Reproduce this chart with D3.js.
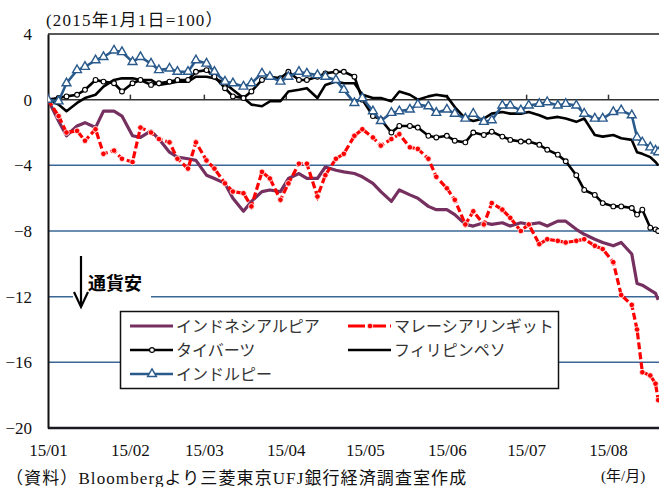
<!DOCTYPE html>
<html>
<head>
<meta charset="utf-8">
<script src="https://cdn.jsdelivr.net/npm/d3@7/dist/d3.min.js"></script>
<style>
  body { margin: 0; background: #fff; }
  text { font-family: "Liberation Serif", "Times New Roman", "Noto Sans CJK JP", serif; }
  .jp { font-family: "Noto Sans CJK JP", sans-serif; }
</style>
</head>
<body>
<div id="chart"></div>
<script>
// dates of the sampled points (2015)
var dates = ["01-01","01-05","01-08","01-12","01-15","01-19","01-22","01-26","01-29",
  "02-02","02-05","02-09","02-12","02-16","02-19","02-23","02-26",
  "03-02","03-05","03-09","03-12","03-16","03-19","03-23","03-26","03-30",
  "04-02","04-06","04-09","04-13","04-16","04-20","04-23","04-27","04-30",
  "05-04","05-07","05-11","05-14","05-18","05-21","05-25","05-28",
  "06-01","06-04","06-08","06-11","06-15","06-18","06-22","06-25","06-29",
  "07-02","07-06","07-09","07-13","07-16","07-20","07-23","07-27","07-30",
  "08-03","08-06","08-10","08-12","08-14","08-17","08-19","08-20"];

// index (2015/1/1 = 100) minus 100
var idr = [0,-1.3,-2.2,-1.6,-1.4,-1.7,-0.7,-0.7,-1.0,
  -2.2,-2.3,-1.9,-2.4,-3.2,-3.5,-3.6,-3.7,
  -4.6,-4.8,-5.1,-6.0,-6.8,-6.2,-5.6,-5.5,-5.6,
  -4.8,-4.5,-4.8,-4.8,-4.1,-4.3,-4.4,-4.5,-4.7,
  -5.1,-5.6,-6.2,-5.5,-5.8,-6.0,-6.5,-6.7,
  -6.7,-7.0,-7.6,-7.7,-7.5,-7.6,-7.5,-7.7,-7.5,
  -7.6,-7.5,-7.7,-7.4,-7.4,-7.9,-8.2,-8.5,-8.7,
  -8.9,-8.7,-9.4,-11.2,-11.3,-11.6,-11.8,-12.2];

var myr = [0,-1.0,-2.0,-1.9,-2.5,-1.8,-3.3,-3.1,-3.6,
  -3.8,-1.7,-2.0,-2.4,-2.6,-3.6,-4.2,-2.6,
  -3.7,-4.2,-5.1,-5.6,-5.7,-6.5,-4.4,-4.8,-6.1,
  -5.1,-3.9,-3.9,-5.9,-4.6,-3.6,-3.3,-2.2,-1.8,
  -2.3,-2.8,-2.4,-2.1,-2.9,-3.0,-3.6,-4.7,
  -5.4,-6.1,-7.6,-6.8,-7.6,-6.3,-6.7,-7.2,-8.0,
  -7.6,-8.8,-8.5,-8.6,-8.7,-8.6,-8.5,-8.9,-9.1,
  -9.9,-11.9,-12.5,-14.0,-16.6,-16.8,-17.3,-18.3];

var thb = [0,0.1,0.2,0.3,0.6,1.2,1.1,1.0,0.5,
  1.0,1.2,0.9,1.0,1.1,1.2,1.2,1.7,
  1.8,1.4,0.7,0.2,0.1,0.5,1.2,1.4,1.3,
  1.7,1.2,1.2,1.4,1.6,1.7,1.7,1.4,0.0,
  -1.0,-1.2,-2.0,-1.6,-1.6,-1.7,-2.2,-2.3,
  -2.2,-2.5,-2.6,-2.0,-2.15,-1.95,-2.25,-2.45,-2.55,
  -2.55,-2.75,-3.05,-3.35,-3.75,-4.6,-5.5,-5.8,-6.3,
  -6.5,-6.5,-6.6,-7.0,-6.7,-7.8,-7.9,-8.0];

var php = [0,-0.3,-0.7,-0.2,0.1,0.3,0.8,1.2,1.3,
  1.3,1.2,1.2,0.9,1.0,1.1,1.1,1.4,
  1.4,1.3,1.0,0.6,0.1,-0.3,-0.4,-0.1,-0.1,
  0.5,0.6,0.7,0.1,0.9,1.1,1.0,1.0,0.3,
  0.1,0.1,-0.1,0.5,0.3,0.0,0.2,0.3,
  0.2,-0.45,-1.15,-1.3,-1.15,-0.85,-0.75,-0.85,-0.85,
  -0.75,-0.95,-1.15,-1.05,-1.15,-1.35,-1.15,-2.15,-2.25,
  -2.15,-2.35,-2.45,-3.2,-3.3,-3.5,-3.8,-4.0];

var inr = [0,-0.1,1.0,1.8,2.0,2.4,2.6,3.0,2.9,
  2.3,2.6,2.2,1.8,1.9,1.7,1.7,2.4,
  2.2,1.7,1.1,1.0,0.8,1.0,1.6,1.4,1.1,
  1.4,1.7,1.6,1.5,1.4,1.2,0.6,-0.2,0.1,
  -0.7,-1.3,-0.8,-0.7,-0.6,-0.3,-0.4,-0.8,
  -0.6,-0.85,-1.15,-0.85,-1.35,-1.25,-0.35,-0.35,-0.65,
  -0.35,-0.25,-0.15,-0.35,-0.25,-0.35,-0.85,-1.15,-1.15,
  -0.75,-0.65,-0.95,-2.3,-2.6,-2.9,-3.1,-3.2];

var seriesNames = ["インドネシアルピア", "マレーシアリンギット", "タイバーツ", "フィリピンペソ", "インドルピー"];
var yTicks = [4, 0, -4, -8, -12, -16, -20];
var monthTicks = ["2015-01-01","2015-02-01","2015-03-01","2015-04-01","2015-05-01","2015-06-01","2015-07-01","2015-08-01"];

var width = 659, height = 487;
var svg = d3.select("#chart").append("svg").attr("width", width).attr("height", height);

var parse = d3.timeParse("%Y-%m-%d");
var dateObjs = dates.map(function (d) { return parse("2015-" + d); });

// x: Jan 1 at the left axis, Aug 1 at x=608
var x = d3.scaleTime()
    .domain([parse("2015-01-01"), parse("2015-08-01")])
    .range([48, 608]);
var y = d3.scaleLinear().domain([-20, 4]).range([428, 34]);
var left = 48, right = 660;

//gridlines
svg.append("g").selectAll("line")
    .data([-4, -8, -12, -16])
    .enter().append("line")
    .attr("x1", left).attr("x2", right)
    .attr("y1", function (d) { return y(d); })
    .attr("y2", function (d) { return y(d); })
    .attr("stroke", "#3a6796").attr("stroke-width", 1.5);

svg.append("line").attr("x1", left).attr("x2", right)
    .attr("y1", y(4)).attr("y2", y(4)).attr("stroke", "#222").attr("stroke-width", 1.5);
svg.append("line").attr("x1", left).attr("x2", right)
    .attr("y1", y(0)).attr("y2", y(0)).attr("stroke", "#333").attr("stroke-width", 1.5);
svg.append("line").attr("x1", left).attr("x2", right)
    .attr("y1", y(-20)).attr("y2", y(-20)).attr("stroke", "#1a1a22").attr("stroke-width", 2.5);

// y axis
var yAxis = svg.append("g").attr("transform", "translate(" + left + ",0)")
    .call(d3.axisLeft(y).tickValues(yTicks).tickSize(0).tickPadding(16).tickFormat(d3.format("d")));
yAxis.select(".domain").attr("stroke", "#111").attr("stroke-width", 2);
yAxis.selectAll("text").attr("font-size", 17).attr("fill", "#111")
    .style("font-family", "'Liberation Serif', serif");

// small month ticks on the zero line
var monthDates = monthTicks.map(parse);
var tickAxis = svg.append("g").attr("transform", "translate(0," + y(0) + ")")
    .call(d3.axisTop(x).tickValues(monthDates.slice(1)).tickSize(5).tickFormat(""));
tickAxis.select(".domain").remove();
tickAxis.selectAll("line").attr("stroke", "#333").attr("stroke-width", 1.5);

// month labels at the bottom
var xAxis = svg.append("g").attr("transform", "translate(0," + y(-20) + ")")
    .call(d3.axisBottom(x).tickValues(monthDates).tickSize(0).tickPadding(16)
        .tickFormat(d3.timeFormat("%y/%m")));
xAxis.select(".domain").remove();
xAxis.selectAll("text").attr("font-size", 17).attr("fill", "#111")
    .style("font-family", "'Liberation Serif', serif");

// lines
var clip = svg.append("clipPath").attr("id", "plotClip").append("rect")
    .attr("x", left).attr("y", y(4)).attr("width", right - left).attr("height", y(-20) - y(4));

var plot = svg.append("g").attr("clip-path", "url(#plotClip)");

function lineFor(vals) {
    return d3.line()
        .x(function (d, i) { return x(dateObjs[i]); })
        .y(function (d) { return y(d); })(vals);
}

var purple = "#76305f", red = "#ff0000", blue = "#2a5a8c";

plot.append("path").attr("d", lineFor(idr)).attr("fill", "none")
    .attr("stroke", purple).attr("stroke-width", 3.2).attr("stroke-linejoin", "round");

plot.append("path").attr("d", lineFor(myr)).attr("fill", "none")
    .attr("stroke", red).attr("stroke-width", 3.2).attr("stroke-dasharray", "7,3");
plot.append("g").selectAll("circle").data(myr).enter().append("circle")
    .attr("cx", function (d, i) { return x(dateObjs[i]); })
    .attr("cy", function (d) { return y(d); })
    .attr("r", 2.8).attr("fill", red).attr("stroke", "#fff").attr("stroke-width", 0.8);

plot.append("path").attr("d", lineFor(php)).attr("fill", "none")
    .attr("stroke", "#000").attr("stroke-width", 2.6).attr("stroke-linejoin", "round");

plot.append("path").attr("d", lineFor(thb)).attr("fill", "none")
    .attr("stroke", "#000").attr("stroke-width", 2.6).attr("stroke-linejoin", "round");
plot.append("g").selectAll("circle").data(thb).enter().append("circle")
    .attr("cx", function (d, i) { return x(dateObjs[i]); })
    .attr("cy", function (d) { return y(d); })
    .attr("r", 2.4).attr("fill", "#fff").attr("stroke", "#000").attr("stroke-width", 1.1);

plot.append("path").attr("d", lineFor(inr)).attr("fill", "none")
    .attr("stroke", blue).attr("stroke-width", 2.6).attr("stroke-linejoin", "round");
var tri = d3.symbol().type(d3.symbolTriangle).size(34);
plot.append("g").selectAll("path").data(inr).enter().append("path")
    .attr("d", tri)
    .attr("transform", function (d, i) { return "translate(" + x(dateObjs[i]) + "," + y(d) + ")"; })
    .attr("fill", "#fff").attr("stroke", blue).attr("stroke-width", 1.4);

// 通貨安 arrow
svg.append("rect").attr("x", 73).attr("y", 266).attr("width", 78).attr("height", 34).attr("fill", "#fff");
svg.append("line").attr("x1", 81).attr("x2", 81).attr("y1", 256).attr("y2", 306)
    .attr("stroke", "#000").attr("stroke-width", 2.2);
svg.append("path").attr("d", "M74,292 L81,307 L88,292").attr("fill", "none")
    .attr("stroke", "#000").attr("stroke-width", 2.2);
svg.append("text").attr("class", "jp").attr("x", 88).attr("y", 290)
    .attr("font-size", 18).attr("font-weight", "bold").attr("fill", "#000").text("通貨安");

// legend
var legend = svg.append("g");
legend.append("rect").attr("x", 120.5).attr("y", 311.5).attr("width", 438).attr("height", 77)
    .attr("fill", "#fff").attr("stroke", "#111").attr("stroke-width", 1.5);

var legendItems = [
    {name: seriesNames[0], col: 0, row: 0, color: purple, w: 3.2},
    {name: seriesNames[1], col: 1, row: 0, color: red, w: 3.2, dash: "7,3", marker: "dot"},
    {name: seriesNames[2], col: 0, row: 1, color: "#000", w: 2.6, marker: "circle"},
    {name: seriesNames[3], col: 1, row: 1, color: "#000", w: 2.6},
    {name: seriesNames[4], col: 0, row: 2, color: blue, w: 2.6, marker: "tri"}
];
var colX = [130, 348], rowY = [326, 350, 374];

legendItems.forEach(function (d) {
    var lx = colX[d.col], ly = rowY[d.row];
    var g = legend.append("g");
    g.append("line").attr("x1", lx).attr("x2", lx + 43).attr("y1", ly).attr("y2", ly)
        .attr("stroke", d.color).attr("stroke-width", d.w)
        .attr("stroke-dasharray", d.dash ? "17,4" : null);
    if (d.marker === "dot") {
        g.append("circle").attr("cx", lx + 22).attr("cy", ly).attr("r", 2.8)
            .attr("fill", red).attr("stroke", "#fff").attr("stroke-width", 0.8);
    } else if (d.marker === "circle") {
        g.append("circle").attr("cx", lx + 22).attr("cy", ly).attr("r", 2.4)
            .attr("fill", "#fff").attr("stroke", "#000").attr("stroke-width", 1.1);
    } else if (d.marker === "tri") {
        g.append("path").attr("d", tri).attr("transform", "translate(" + (lx + 22) + "," + ly + ")")
            .attr("fill", "#fff").attr("stroke", blue).attr("stroke-width", 1.4);
    }
    g.append("text").attr("class", "jp").attr("x", lx + 46).attr("y", ly + 6)
        .attr("font-size", 16).attr("fill", "#333").text(d.name);
});

// titles and notes
svg.append("text").attr("x", 46).attr("y", 26).attr("font-size", 17).attr("fill", "#111")
    .attr("letter-spacing", 1.2)
    .text("(2015年1月1日=100）");
svg.append("text").attr("x", 601).attr("y", 481).attr("font-size", 15).attr("fill", "#111")
    .text("(年/月)");
svg.append("text").attr("x", 6).attr("y", 484).attr("font-size", 17).attr("fill", "#111")
    .attr("letter-spacing", 1.1)
    .text("（資料）Bloombergより三菱東京UFJ銀行経済調査室作成");
</script>
</body>
</html>
